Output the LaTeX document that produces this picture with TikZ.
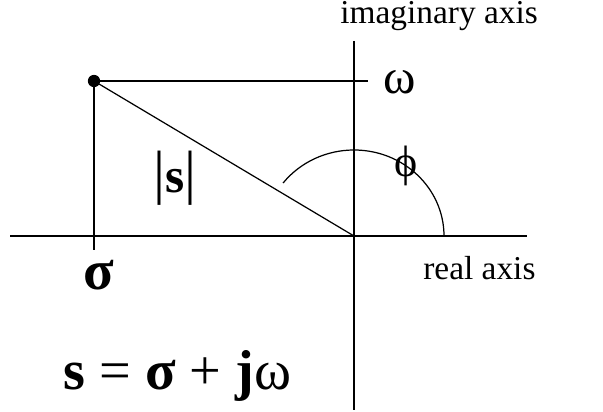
\documentclass[tikz,border=0pt]{standalone}
\usepackage{fontspec}
\setmainfont{Liberation Serif}
\usepackage{tikz}
\usetikzlibrary{positioning, calc}
\tikzset{
  axis/.style={line width=1.1pt, color=black},
  thinline/.style={line width=0.7pt, color=black},
  dot/.style={circle, fill=black, inner sep=0pt, minimum size=7pt},
  axlabel/.style={font=\fontsize{19}{19}\selectfont, inner sep=0pt},
  biglabel/.style={font=\fontsize{32}{32}\selectfont, inner sep=0pt}
}
\begin{document}
\begin{tikzpicture}[x=0.02cm, y=-0.02cm]
  \useasboundingbox (0,0) rectangle (603,412);

  % Axes
  \coordinate (O) at (354,236);
  \coordinate (xl) at (10,236);
  \coordinate (xr) at (527,236);
  \coordinate (yt) at (354,41);
  \coordinate (yb) at (354,410);
  \draw[axis] (xl) -- (xr);
  \draw[axis] (yt) -- (yb);

  % Point s and its projections
  \node[dot] (P) at (94,81) {};
  \coordinate (Pw) at (368,81);
  \coordinate (Ps) at (94,250);
  \draw[axis] (P.center) -- (Pw);
  \draw[axis] (P.center) -- (Ps);
  \draw[thinline] (P.center) -- (O);

  % Angle arc
  \draw[thinline] ($(O)+(90,0)$) arc[start angle=0, end angle=142, x radius=90, y radius=-86];

  % Labels
  \node[axlabel, anchor=base west] (imlbl) at (340,24) {imaginary axis};
  \node[axlabel, anchor=base west] (relbl) at (423,280) {real axis};
  \node[font=\fontsize{28}{28}\selectfont, inner sep=0pt] (wlbl) at (400,82) {ω};
  \node[font=\fontsize{25}{25}\selectfont, inner sep=0pt] (philbl) at (406,166) {ϕ};
  \node[font=\fontsize{28}{28}\selectfont, inner sep=0pt] (modlbl) at (175,178) {\fontsize{34}{34}\selectfont|\fontsize{28}{28}\selectfont\textbf{s}\fontsize{34}{34}\selectfont|};
  \node[biglabel] (siglbl) at (99,275) {\textbf{σ}};
  \node[biglabel, anchor=base west] (eqlbl) at (63,390) {\textbf{s} = \textbf{σ} + \textbf{j}ω};
\end{tikzpicture}
\end{document}
